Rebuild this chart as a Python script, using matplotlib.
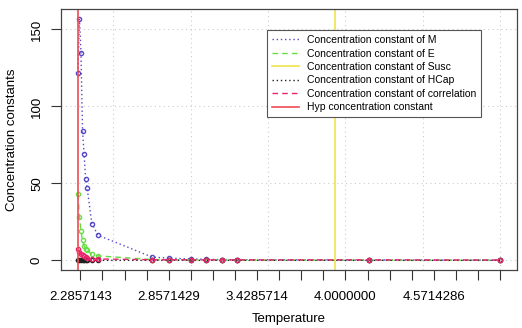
import numpy as np
import matplotlib
matplotlib.use("Agg")
import matplotlib.pyplot as plt

plt.rcParams['font.family'] = ['Liberation Sans', 'DejaVu Sans']

# temperatures and concentration constants
temperature = [2.27, 2.28, 2.29, 2.30, 2.31, 2.32, 2.33, 2.36, 2.40,
               2.75, 2.86, 3.0, 3.1, 3.2, 3.3, 4.15, 5.0]
conc_M = [122, 157, 135, 84, 69, 53, 47, 24, 16.4,
          2.2, 1.5, 1.0, 0.8, 0.6, 0.5, 0.3, 0.2]
conc_E = [43, 28.5, 19, 13, 9.5, 7.5, 6.5, 4, 3,
          0.6, 0.5, 0.4, 0.3, 0.3, 0.2, 0.1, 0.1]
conc_HCap = [0.4, 0.3, 0.3, 0.2, 0.2, 0.2, 0.2, 0.1, 0.1,
             0.1, 0.1, 0.1, 0.1, 0.1, 0.1, 0.1, 0.1]
conc_corr = [7.2, 5.5, 4.4, 3.3, 2.6, 2.2, 1.8, 1.1, 1.0,
             0.5, 0.5, 0.4, 0.4, 0.4, 0.4, 0.4, 0.3]
susc_T = 3.935
hyp_T = 2.269

legend_labels = ['Concentration constant of M', 'Concentration constant of E',
                 'Concentration constant of Susc', 'Concentration constant of HCap',
                 'Concentration constant of correlation', 'Hyp concentration constant']

fig = plt.figure(figsize=(5.22, 3.28), dpi=100)
ax = fig.add_axes([61/522, 58/328, 456/522, 261/328])

# R style limits (4% padding)
x0, x1 = min(temperature), max(temperature)
allv = conc_M + conc_E + conc_HCap + conc_corr
y0, y1 = min(allv), max(allv)
ax.set_xlim(x0 - 0.04*(x1-x0), x1 + 0.04*(x1-x0))
ax.set_ylim(y0 - 0.04*(y1-y0), y1 + 0.04*(y1-y0))

# grid like R grid()
for g in [2.5, 3.0, 3.5, 4.0, 4.5, 5.0]:
    ax.axvline(g, color='#cccccc', ls=(0, (1, 3)), lw=0.8, zorder=0)
for g in [0, 50, 100, 150]:
    ax.axhline(g, color='#cccccc', ls=(0, (1, 3)), lw=0.8, zorder=0)

mk = dict(marker='o', ms=3, mfc='none', mew=1)
ax.plot(temperature, conc_M, color='#5548c8', ls=(0, (1, 2)), lw=1, label=legend_labels[0], **mk)
ax.plot(temperature, conc_E, color='#66dd44', ls=(0, (4, 3)), lw=1, label=legend_labels[1], **mk)
ax.axvline(susc_T, color='#eee44a', lw=1.2, label=legend_labels[2])
ax.plot(temperature, conc_HCap, color='#222222', ls=(0, (1, 2)), lw=1, label=legend_labels[3], **mk)
ax.plot(temperature, conc_corr, color='#e8246e', ls=(0, (4, 3)), lw=1, label=legend_labels[4], **mk)
ax.axvline(hyp_T, color='#f04a55', lw=1.2, label=legend_labels[5])

xt = [16/7 + k/7 for k in range(20)]
ax.set_xticks(xt)
ax.set_xticklabels(['%.7f' % t if k % 4 == 0 else '' for k, t in enumerate(xt)])
ax.set_yticks([0, 50, 100, 150])
ax.tick_params(axis='both', direction='out', length=7, width=0.8, color='#333333',
               labelsize=9.5, pad=8)
plt.setp(ax.get_yticklabels(), rotation=90, va='center')
ax.tick_params(axis='y', pad=6)
for s in ax.spines.values():
    s.set_color('#444444')
    s.set_linewidth(0.9)

ax.set_xlabel('Temperature', fontsize=9.5, labelpad=7)
ax.set_ylabel('Concentration constants', fontsize=9.5, labelpad=9)

leg = ax.legend(loc='upper left', bbox_to_anchor=(0.452, 0.92), borderaxespad=0,
                fontsize=7.5, fancybox=False, edgecolor='#555555', framealpha=1,
                handlelength=2.6, labelspacing=0.33, borderpad=0.5, handletextpad=0.7)
leg.get_frame().set_linewidth(0.8)
for h in leg.legend_handles:
    h.set_marker('')

fig.savefig('out.png', dpi=100)
